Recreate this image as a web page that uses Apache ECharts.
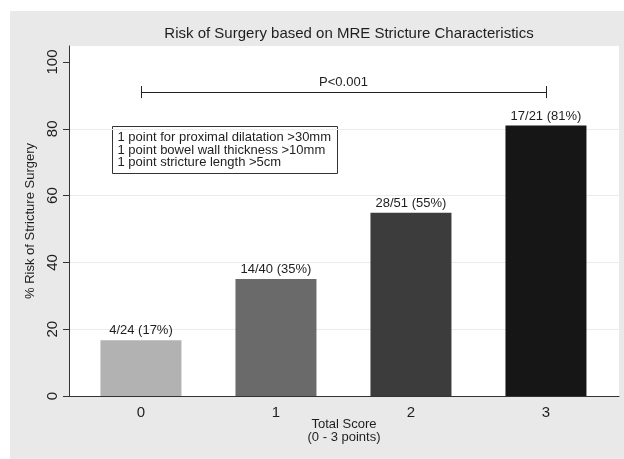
<!DOCTYPE html>
<html>
<head>
<meta charset="utf-8">
<script src="https://cdn.jsdelivr.net/npm/echarts@6/dist/echarts.min.js"></script>
<style>
  html, body { margin: 0; padding: 0; background: #fff; }
  #chart { width: 624px; height: 459px; }
</style>
</head>
<body>
<div id="chart"></div>
<script>
// data
const scores = [0, 1, 2, 3];
const riskPct = [16.7, 35, 54.9, 81];
const barLabels = ['4/24 (17%)', '14/40 (35%)', '28/51 (55%)', '17/21 (81%)'];
const barColors = ['#b2b2b2', '#6a6a6a', '#3c3c3c', '#161616'];
const yTicks = [0, 20, 40, 60, 80, 100];
const noteLines = [
    '1 point for proximal dilatation >30mm',
    '1 point bowel wall thickness >10mm',
    '1 point stricture length >5cm'
];
const pValue = 'P<0.001';
const bracketY = 91;

const font = 'Liberation Sans, Arial, sans-serif';
const ink = '#1e1e1e';

var myChart = echarts.init(document.getElementById('chart'));

let option = {
    backgroundColor: '#fff',
    textStyle: { fontFamily: font, color: ink },
    title: {
        text: 'Risk of Surgery based on MRE Stricture Characteristics',
        left: 344,
        top: 21,
        textAlign: 'center',
        textStyle: { fontSize: 15, fontWeight: 'normal', color: ink, fontFamily: font }
    },
    graphic: [
        {
            type: 'rect',
            z: -10,
            shape: { x: 10, y: 11, width: 614, height: 448 },
            style: { fill: '#e9e9e9' }
        },
        {
            type: 'group',
            left: 112,
            top: 126,
            z: 50,
            children: [
                {
                    type: 'rect',
                    shape: { x: 0, y: 0, width: 225, height: 47 },
                    style: { fill: '#fff', stroke: '#333', lineWidth: 1 }
                },
                {
                    type: 'text',
                    x: 5,
                    y: 5,
                    style: {
                        text: noteLines.join('\n'),
                        font: '13px ' + font,
                        lineHeight: 12.5,
                        fill: ink
                    }
                }
            ]
        }
    ],
    grid: {
        left: 69,
        right: 5,
        top: 46,
        bottom: 63,
        show: true,
        backgroundColor: '#fff',
        borderWidth: 0
    },
    xAxis: {
        type: 'value',
        min: -0.533,
        max: 3.541,
        name: 'Total Score\n(0 - 3 points)',
        nameLocation: 'middle',
        nameGap: 22,
        nameMoveOverlap: false,
        nameTextStyle: { fontSize: 13, lineHeight: 13, color: ink },
        axisLine: { show: true, onZero: false, lineStyle: { color: '#333', width: 1 } },
        axisTick: { show: false },
        splitLine: { show: false },
        axisLabel: {
            customValues: scores,
            fontSize: 15,
            color: ink,
            margin: 9
        }
    },
    yAxis: {
        type: 'value',
        min: 0,
        max: 104.8,
        interval: 20,
        name: '% Risk of Stricture Surgery',
        nameLocation: 'middle',
        nameRotate: 90,
        nameGap: 31,
        nameTextStyle: { fontSize: 13, color: ink },
        axisLine: { show: true, onZero: false, lineStyle: { color: '#333', width: 1 } },
        axisTick: { show: true, customValues: yTicks, length: 6, lineStyle: { color: '#333' } },
        axisLabel: {
            customValues: yTicks,
            rotate: 90,
            fontSize: 15,
            color: ink,
            margin: 9
        },
        splitLine: {
            show: true,
            lineStyle: {
                color: ['transparent', '#ebebeb', '#ebebeb', '#ebebeb', '#ebebeb', 'transparent', 'transparent'],
                width: 1
            }
        }
    },
    series: [
        {
            type: 'bar',
            barWidth: 81,
            data: scores.map((s, i) => ({
                value: [s, riskPct[i]],
                itemStyle: { color: barColors[i] },
                label: { formatter: barLabels[i] }
            })),
            label: {
                show: true,
                position: 'top',
                distance: 3,
                fontSize: 13,
                color: ink
            }
        },
        {
            type: 'line',
            data: [],
            silent: true,
            markLine: {
                symbol: 'none',
                silent: true,
                animation: false,
                lineStyle: { color: '#222', type: 'solid', width: 1 },
                label: { show: false },
                data: [
                    [
                        { coord: [scores[0], bracketY], label: { show: true, formatter: pValue, position: 'middle', distance: 3, fontSize: 13, color: ink } },
                        { coord: [scores[3], bracketY] }
                    ],
                    [{ coord: [scores[0], bracketY - 1.8] }, { coord: [scores[0], bracketY + 1.8] }],
                    [{ coord: [scores[3], bracketY - 1.8] }, { coord: [scores[3], bracketY + 1.8] }]
                ]
            }
        }
    ]
};

option && myChart.setOption(option);
</script>
</body>
</html>
